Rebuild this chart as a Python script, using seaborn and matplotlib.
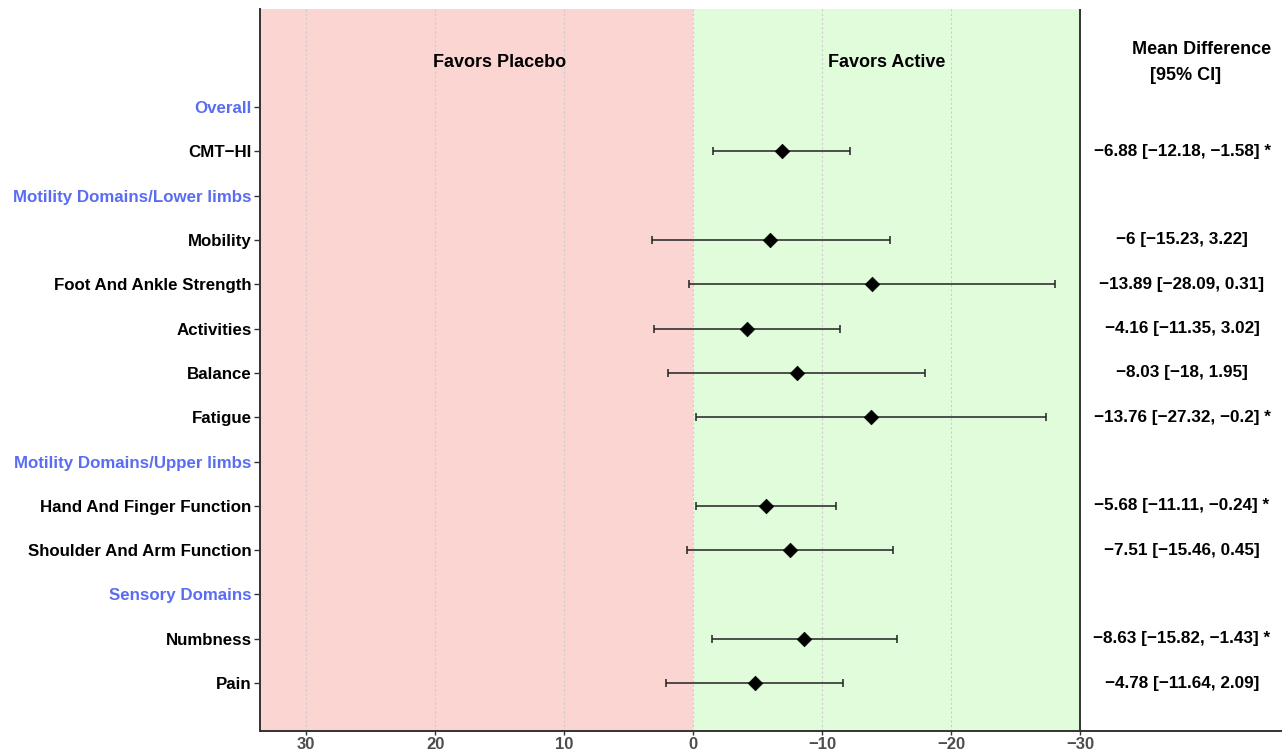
import numpy as np
import pandas as pd
import seaborn as sns
from matplotlib import pyplot as plt

# rows of the forest plot, top to bottom (headings have no estimate)
labels = ["Overall", "CMT\u2212HI", "Motility Domains/Lower limbs", "Mobility",
          "Foot And Ankle Strength", "Activities", "Balance", "Fatigue",
          "Motility Domains/Upper limbs", "Hand And Finger Function",
          "Shoulder And Arm Function", "Sensory Domains", "Numbness", "Pain"]
is_heading = [True, False, True, False, False, False, False, False,
              True, False, False, True, False, False]
estimate = [np.nan, -6.88, np.nan, -6, -13.89, -4.16, -8.03, -13.76,
            np.nan, -5.68, -7.51, np.nan, -8.63, -4.78]
ci_low = [np.nan, -12.18, np.nan, -15.23, -28.09, -11.35, -18, -27.32,
          np.nan, -11.11, -15.46, np.nan, -15.82, -11.64]
ci_high = [np.nan, -1.58, np.nan, 3.22, 0.31, 3.02, 1.95, -0.2,
           np.nan, -0.24, 0.45, np.nan, -1.43, 2.09]
ci_text = ["", "\u22126.88 [\u221212.18, \u22121.58] *", "", "\u22126 [\u221215.23, 3.22]",
           "\u221213.89 [\u221228.09, 0.31]", "\u22124.16 [\u221211.35, 3.02]",
           "\u22128.03 [\u221218, 1.95]", "\u221213.76 [\u221227.32, \u22120.2] *", "",
           "\u22125.68 [\u221211.11, \u22120.24] *", "\u22127.51 [\u221215.46, 0.45]", "",
           "\u22128.63 [\u221215.82, \u22121.43] *", "\u22124.78 [\u221211.64, 2.09]"]
x_ticks = [30, 20, 10, 0, -10, -20, -30]

df = pd.DataFrame({'label': labels, 'heading': is_heading, 'est': estimate,
                   'lo': ci_low, 'hi': ci_high, 'txt': ci_text})
df['row'] = np.arange(1, len(df) + 1)
pts = df.dropna(subset=['est'])

sns.set_theme(style='white')
plt.rcParams['font.family'] = ['Liberation Sans', 'DejaVu Sans']

fig = plt.figure(figsize=(12.82, 7.51), dpi=100)
ax = fig.add_axes([260 / 1282, 1 - 731 / 751, 1 - 260 / 1282, (731 - 9) / 751])

x_left, x_right = 33.57, -45.65
ax.set_xlim(x_left, x_right)
ax.set_ylim(15.08, -1.21)

# shaded regions
ax.axvspan(x_left, 0, color='#FBD5D2', zorder=0, lw=0)
ax.axvspan(0, -30, color='#E1FCDB', zorder=0, lw=0)
for t in x_ticks:
    ax.axvline(t, color='#CCCCCC', ls=(0, (2, 2)), lw=0.8, zorder=1)
ax.axvline(-30, color='#333333', lw=1.4, zorder=3)

# confidence intervals + point estimates
ax.errorbar(pts['est'], pts['row'],
            xerr=[pts['est'] - pts['lo'], pts['hi'] - pts['est']],
            fmt='none', ecolor='#222222', elinewidth=1.1, capsize=3.2,
            capthick=1.1, zorder=4)
sns.scatterplot(data=pts, x='est', y='row', marker='D', s=55, color='black',
                edgecolor='black', linewidth=0.5, zorder=5, ax=ax, legend=False)

# header row
ax.text(15, 0, 'Favors Placebo', ha='center', va='center', fontsize=13,
        fontweight='bold', color='black')
ax.text(-15, 0, 'Favors Active', ha='center', va='center', fontsize=13,
        fontweight='bold', color='black')
ax.text(-39.4, -0.29, 'Mean Difference', ha='center', va='center',
        fontsize=13, fontweight='bold', color='black')
ax.text(-38.2, 0.28, '[95% CI]', ha='center', va='center',
        fontsize=13, fontweight='bold', color='black')

# right hand text column
for _, r in df.iterrows():
    if r['txt']:
        ax.text(-37.9, r['row'], r['txt'], ha='center', va='center',
                fontsize=12.3, fontweight='bold', color='black')

ax.set_yticks(df['row'])
ax.set_yticklabels(df['label'])
for lab, head in zip(ax.get_yticklabels(), df['heading']):
    lab.set_fontweight('bold')
    lab.set_fontsize(12.2)
    lab.set_color('#5A6DF2' if head else 'black')

ax.set_xticks(x_ticks)
ax.set_xticklabels(['\u2212' + str(-t) if t < 0 else str(t) for t in x_ticks],
                   fontsize=12, fontweight='bold', color='#4D4D4D')
ax.tick_params(axis='y', length=4, width=1, color='#333333', left=True, pad=2)
ax.tick_params(axis='x', length=3, width=1, color='#333333', bottom=True, pad=1)
ax.set_xlabel('')
ax.set_ylabel('')

for s in ['top', 'right']:
    ax.spines[s].set_visible(False)
for s in ['left', 'bottom']:
    ax.spines[s].set_color('#333333')
    ax.spines[s].set_linewidth(1.4)
ax.grid(False)

fig.savefig('out.png', dpi=100)
